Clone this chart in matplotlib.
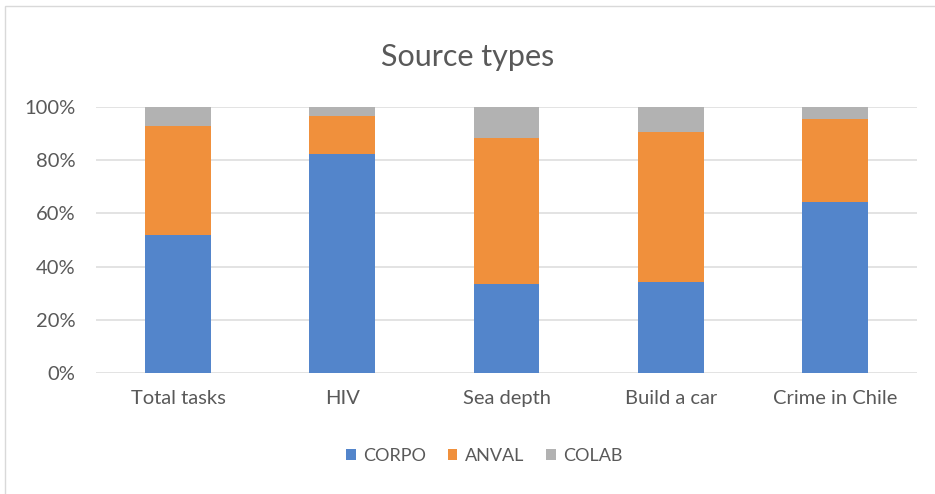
import matplotlib
matplotlib.use("Agg")
import matplotlib.pyplot as plt
import numpy as np
from matplotlib.patches import Rectangle

# share of each source type per task (fractions of 1)
categories = ["Total tasks", "HIV", "Sea depth", "Build a car", "Crime in Chile"]
corpo = [0.519, 0.821, 0.335, 0.344, 0.641]
anval = [0.409, 0.145, 0.546, 0.562, 0.313]
colab = [0.072, 0.034, 0.119, 0.094, 0.046]
series_names = ["CORPO", "ANVAL", "COLAB"]
colors = ["#5385CB", "#F0903C", "#B2B2B2"]
y_ticks = [0, 0.2, 0.4, 0.6, 0.8, 1.0]
y_tick_labels = ["0%", "20%", "40%", "60%", "80%", "100%"]

TEXT = "#595959"
plt.rcParams["font.family"] = ["Lato", "DejaVu Sans"]

fig = plt.figure(figsize=(9.35, 4.94), dpi=100)
# thin chart frame (left and top edges visible)
fig.patches.append(Rectangle((5 / 935, -0.05), 1.2, (494 - 6) / 494 + 0.05,
                             transform=fig.transFigure, fill=False,
                             edgecolor="#D9D9D9", linewidth=1.0))

ax = fig.add_axes([96 / 935, 1 - 373.3 / 494, (917 - 96) / 935, (373.3 - 106.7) / 494])
x = np.arange(len(categories))
bottom = np.zeros(len(categories))
for name, vals, c in zip(series_names, [corpo, anval, colab], colors):
    ax.bar(x, vals, 0.4, bottom=bottom, color=c, label=name, zorder=3)
    bottom += np.array(vals)

ax.set_xlim(-0.5, len(categories) - 0.5)
ax.set_ylim(0, 1)
ax.set_yticks(y_ticks)
ax.set_yticklabels(y_tick_labels)
ax.set_xticks(x)
ax.set_xticklabels(categories)
ax.tick_params(axis="both", length=0, labelsize=14.5, colors=TEXT)
ax.tick_params(axis="y", pad=15)
ax.tick_params(axis="x", pad=12)
ax.grid(axis="y", color="#E3E3E3", linewidth=1.4, zorder=0)
for s in ax.spines.values():
    s.set_visible(False)

fig.text(0.5, 1 - 57 / 494, "Source types", ha="center", va="center",
         fontsize=22, color=TEXT)

fig.legend(loc="center", bbox_to_anchor=(484 / 935, 1 - 456 / 494), ncol=3,
           frameon=False, fontsize=13, handlelength=0.55, handleheight=0.55,
           handletextpad=0.4, columnspacing=1.2, labelcolor=TEXT)

fig.savefig("out.png", dpi=100)
